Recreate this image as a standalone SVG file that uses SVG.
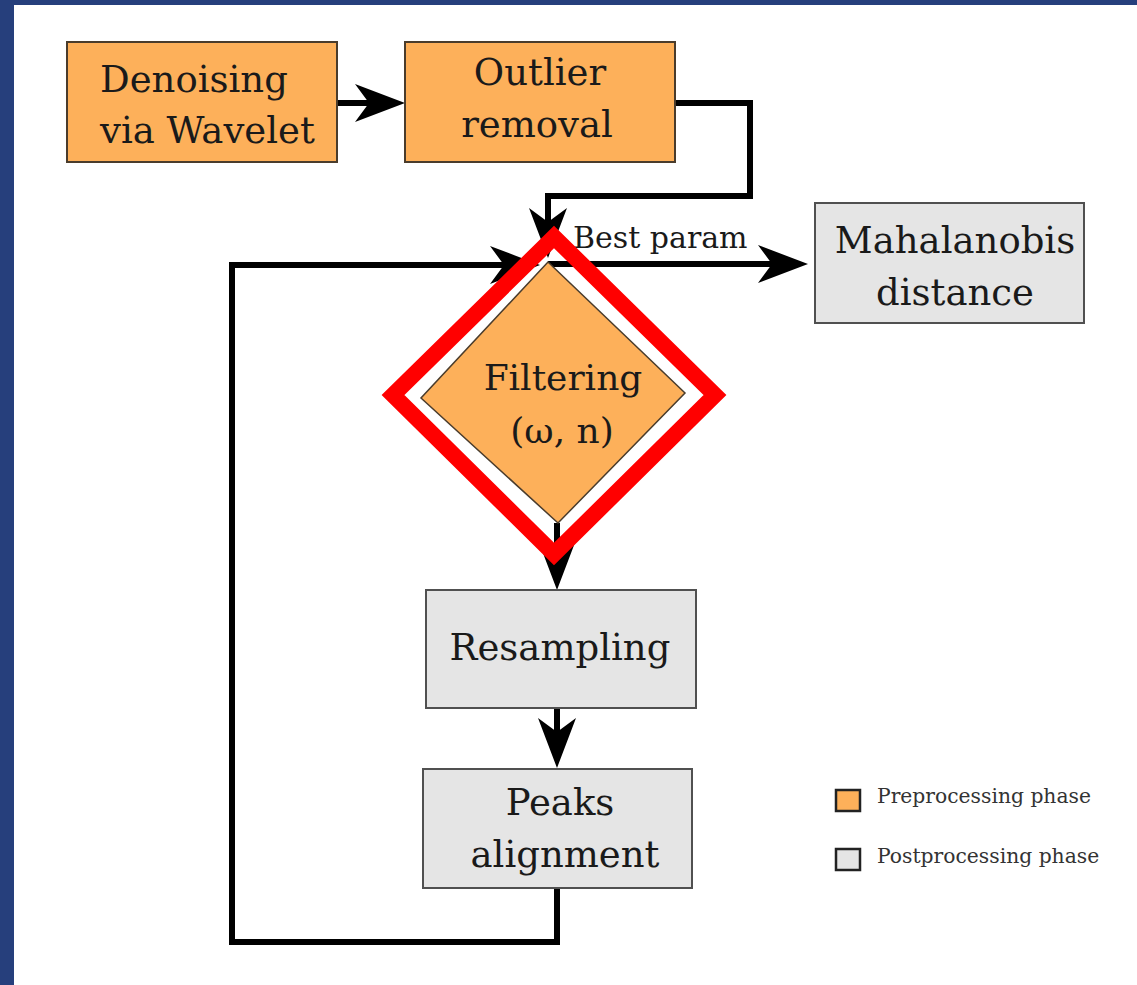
<svg xmlns="http://www.w3.org/2000/svg" width="1137" height="985" viewBox="0 0 1137 985">
<style>
.t{font-family:"DejaVu Serif","Liberation Serif",serif;font-size:37px;fill:#1a1a1a}
.c{text-anchor:middle}
.orange{fill:#fdb05a;stroke:#4a3c2c;stroke-width:2}
.gray{fill:#e5e5e5;stroke:#505050;stroke-width:2}
.conn{fill:none;stroke:#000;stroke-width:6;stroke-linejoin:miter}
.leg{font-family:"DejaVu Serif","Liberation Serif",serif;font-size:20.3px;fill:#333}
</style>
<defs>
<marker id="ah" viewBox="-52 -21 54 42" refX="-30" refY="0" markerWidth="54" markerHeight="42" markerUnits="userSpaceOnUse" orient="auto">
<path d="M0,0 L-50,-19 L-36,0 L-50,19 Z" fill="#000"/>
</marker>
</defs>
<rect x="0" y="0" width="1137" height="985" fill="#263f7c"/>
<rect x="14" y="5" width="1123" height="980" fill="#fff"/>

<g id="connectors">
<path class="conn" d="M337,103 H375" marker-end="url(#ah)"/>
<path class="conn" d="M675,103 H750 V196 H548 V228" marker-end="url(#ah)"/>
<path class="conn" d="M548,264 H778" marker-end="url(#ah)"/>
<path class="conn" d="M557,888 V942 H232 V265 H510" marker-end="url(#ah)"/>
<path class="conn" d="M557,523 V560" marker-end="url(#ah)"/>
<path class="conn" d="M557,708 V738" marker-end="url(#ah)"/>
<text x="573" y="248" class="t" style="font-size:30px">Best param</text>
</g>

<g id="denoising">
<rect class="orange" x="67" y="42" width="270" height="120"/>
<text class="t" x="100" y="92">Denoising</text>
<text class="t" x="100" y="143">via Wavelet</text>
</g>

<g id="outlier">
<rect class="orange" x="405" y="42" width="270" height="120"/>
<text class="t c" x="540" y="85">Outlier</text>
<text class="t c" x="537" y="137">removal</text>
</g>

<g id="mahalanobis">
<rect class="gray" x="815" y="203" width="269" height="120"/>
<text class="t c" x="955" y="253">Mahalanobis</text>
<text class="t c" x="955" y="305">distance</text>
</g>

<g id="filtering">
<polygon class="orange" points="548,262 685,393 558,523 421,398" style="stroke-width:1.5"/>
<text class="t c" x="563" y="390" style="font-size:36px">Filtering</text>
<text class="t c" x="562" y="443" style="font-size:36px">(ω, n)</text>
<polygon points="554,237 715,395 554,554 393,395" fill="none" stroke="#ff0000" stroke-width="16" stroke-linejoin="miter"/>
</g>

<g id="resampling">
<rect class="gray" x="426" y="590" width="270" height="118"/>
<text class="t c" x="560" y="660">Resampling</text>
</g>

<g id="peaks">
<rect class="gray" x="423" y="769" width="269" height="119"/>
<text class="t c" x="560" y="815">Peaks</text>
<text class="t c" x="565" y="867">alignment</text>
</g>

<g id="legend">
<rect class="orange" x="836" y="790" width="24" height="21" style="stroke:#222;stroke-width:2.5"/>
<text class="leg" x="877" y="803">Preprocessing phase</text>
<rect class="gray" x="836" y="849" width="24" height="21" style="stroke:#222;stroke-width:2.5"/>
<text class="leg" x="877" y="863">Postprocessing phase</text>
</g>
</svg>
